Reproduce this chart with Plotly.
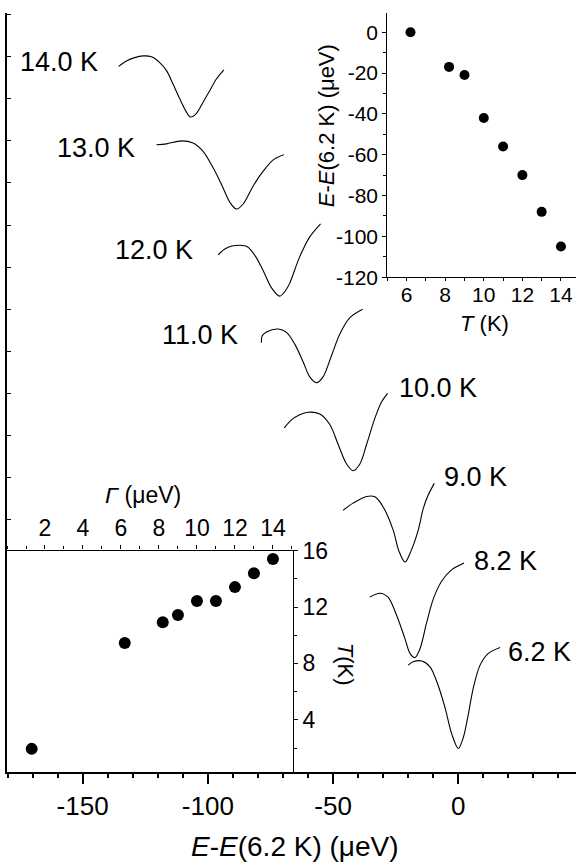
import plotly.graph_objects as go

# ---------------- main panel: spectra (x in μeV, y = offset intensity) ----------------
x_14K = [-135.6, -132.5, -129.2, -125.9, -122.5, -119.2, -116.5, -113.9, -111.2, -108.6, -107.0, -104.6, -101.9, -99.2, -96.6, -93.6]
y_14K = [16.77, 16.90, 16.98, 17.02, 17.00, 16.86, 16.67, 16.35, 16.00, 15.69, 15.57, 15.65, 15.92, 16.20, 16.47, 16.69]

x_13K = [-120.5, -116.5, -110.6, -105.9, -101.9, -97.9, -94.6, -91.2, -88.6, -85.9, -81.9, -77.9, -73.9, -69.7]
y_13K = [14.91, 14.93, 15.00, 14.95, 14.75, 14.36, 13.97, 13.54, 13.38, 13.50, 13.93, 14.28, 14.55, 14.67]

x_12K = [-95.9, -93.2, -90.4, -87.3, -84.1, -80.9, -77.7, -74.5, -71.3, -68.9, -67.3, -63.3, -59.3, -55.0]
y_12K = [12.29, 12.43, 12.50, 12.52, 12.48, 12.25, 11.89, 11.50, 11.31, 11.45, 11.62, 12.25, 12.72, 13.03]

x_11K = [-78.6, -78.3, -76.6, -71.9, -68.6, -65.3, -61.9, -59.3, -56.6, -54.0, -50.6, -47.3, -43.3, -38.2]
y_11K = [10.20, 10.37, 10.46, 10.53, 10.45, 10.17, 9.74, 9.39, 9.25, 9.39, 9.90, 10.41, 10.80, 11.00]

x_10K = [-69.5, -66.6, -63.3, -60.0, -55.3, -51.3, -48.0, -44.6, -42.0, -39.3, -36.6, -33.3, -30.6, -28.2]
y_10K = [8.18, 8.37, 8.49, 8.55, 8.51, 8.26, 7.79, 7.32, 7.16, 7.32, 7.79, 8.41, 8.80, 9.00]

x_9K = [-46.0, -42.0, -36.6, -33.3, -30.0, -26.0, -23.7, -21.3, -18.9, -16.0, -14.0, -12.1, -9.6]
y_9K = [6.22, 6.39, 6.55, 6.54, 6.30, 5.75, 5.25, 4.99, 5.25, 5.75, 6.26, 6.57, 6.86]

x_82K = [-35.3, -31.3, -28.0, -24.6, -21.3, -19.3, -17.3, -15.3, -12.6, -10.0, -6.6, -2.6, 2.3]
y_82K = [4.16, 4.25, 4.15, 3.72, 3.17, 2.82, 2.72, 2.93, 3.56, 4.11, 4.54, 4.81, 4.97]

x_62K = [-20.0, -18.0, -14.6, -11.3, -8.6, -5.3, -2.6, 0.0, 2.0, 4.0, 6.0, 8.7, 12.0, 16.7]
y_62K = [2.54, 2.62, 2.64, 2.50, 2.15, 1.53, 0.90, 0.56, 0.82, 1.37, 2.00, 2.54, 2.82, 2.96]

curve_labels = ["14.0 K", "13.0 K", "12.0 K", "11.0 K", "10.0 K", "9.0 K", "8.2 K", "6.2 K"]
label_x = [-159.4, -144.8, -121.6, -103.2, -8.3, 6.7, 18.7, 32.5]
label_y = [16.87, 14.83, 12.41, 10.39, 9.12, 7.01, 5.02, 2.86]

main_tickvals = [-150, -100, -50, 0]
main_ticktext = ["-150", "-100", "-50", "0"]

# ---------------- inset (top right): shift vs T ----------------
shift_T = [6.2, 8.2, 9.0, 10.0, 11.0, 12.0, 13.0, 14.0]
shift_E = [0, -17, -21, -42, -56, -70, -88, -105]
inset1_xticks = [6, 8, 10, 12, 14]
inset1_yticks = [0, -20, -40, -60, -80, -100, -120]
inset1_yticktext = ["0", "-20", "-40", "-60", "-80", "-100", "-120"]

# ---------------- inset (bottom left): Γ axis (top) vs T axis (right) ----------------
gamma_vals = [1.3, 6.2, 8.2, 9.0, 10.0, 11.0, 12.0, 13.0, 14.0]
gamma_T = [1.94, 9.45, 10.92, 11.43, 12.43, 12.43, 13.41, 14.39, 15.40]
inset2_xticks = [2, 4, 6, 8, 10, 12, 14]
inset2_yticks = [4, 8, 12, 16]

FONT = "Liberation Sans, Arial, sans-serif"

fig = go.Figure()
curves = [(x_14K, y_14K), (x_13K, y_13K), (x_12K, y_12K), (x_11K, y_11K),
          (x_10K, y_10K), (x_9K, y_9K), (x_82K, y_82K), (x_62K, y_62K)]
for xs, ys in curves:
    fig.add_trace(go.Scatter(x=xs, y=ys, mode="lines",
                             line=dict(color="black", width=1.1, shape="spline", smoothing=0.9),
                             xaxis="x", yaxis="y", hoverinfo="skip", showlegend=False))

fig.add_trace(go.Scatter(x=shift_T, y=shift_E, mode="markers",
                         marker=dict(size=10, color="black"),
                         xaxis="x2", yaxis="y2", hoverinfo="skip", showlegend=False))
fig.add_trace(go.Scatter(x=gamma_vals, y=gamma_T, mode="markers",
                         marker=dict(size=12, color="black"),
                         xaxis="x3", yaxis="y3", hoverinfo="skip", showlegend=False))

annotations = []
for t, lx, ly in zip(curve_labels, label_x, label_y):
    annotations.append(dict(x=lx, y=ly, xref="x", yref="y", text=t, showarrow=False,
                            xanchor="center", yanchor="middle",
                            font=dict(family=FONT, size=27, color="black")))

# axis titles as annotations (paper coordinates)
annotations += [
    dict(x=0.506, y=-0.0988, xref="paper", yref="paper", showarrow=False,
         text="<i>E</i>-<i>E</i>(6.2 K) (μeV)", xanchor="center", yanchor="middle",
         font=dict(family=FONT, size=28, color="black")),
    dict(x=0.840, y=0.5905, xref="paper", yref="paper", showarrow=False,
         text="<i>T</i> (K)", xanchor="center", yanchor="middle",
         font=dict(family=FONT, size=22, color="black")),
    dict(x=0.5619, y=0.8518, xref="paper", yref="paper", showarrow=False,
         text="<i>E</i>-<i>E</i>(6.2 K) (μeV)", textangle=-90, xanchor="center", yanchor="middle",
         font=dict(family=FONT, size=22, color="black")),
    dict(x=0.2395, y=0.3645, xref="paper", yref="paper", showarrow=False,
         text="<i>Γ</i> (μeV)", xanchor="center", yanchor="middle",
         font=dict(family=FONT, size=23, color="black")),
    dict(x=0.594, y=0.1414, xref="paper", yref="paper", showarrow=False,
         text="<i>T</i>(K)", textangle=90, xanchor="center", yanchor="middle",
         font=dict(family=FONT, size=22, color="black")),
]

ax_common = dict(showgrid=False, zeroline=False, showline=True, linecolor="black",
                 tickcolor="black", fixedrange=True)

fig.update_layout(
    width=576, height=868,
    margin=dict(l=7, r=0, t=3, b=96),
    paper_bgcolor="white", plot_bgcolor="white",
    showlegend=False,
    font=dict(family=FONT, color="black"),
    annotations=annotations,
    xaxis=dict(**ax_common, domain=[0, 1], anchor="y", range=[-180.2, 47.0],
               linewidth=1.5, ticks="outside", ticklen=10, tickwidth=1.5,
               tickvals=main_tickvals, ticktext=main_ticktext,
               minor=dict(dtick=10, tick0=0, ticks="outside", ticklen=4, tickwidth=1.5, tickcolor="black"),
               tickfont=dict(family=FONT, size=26)),
    xaxis4=dict(**ax_common, overlaying="x", side="top", anchor="y", range=[-180.2, 47.0],
                linewidth=1.5, ticks="inside", ticklen=4, tickwidth=1.2, dtick=10, tick0=0,
                showticklabels=False),
    yaxis=dict(**ax_common, domain=[0, 1], anchor="x", range=[0, 18.04],
               linewidth=1.5, ticks="inside", ticklen=4, tickwidth=1.2, dtick=1, tick0=0,
               showticklabels=False),
    xaxis2=dict(**ax_common, domain=[0.6684, 1], anchor="y2", range=[5.0, 14.78],
                linewidth=1.2, ticks="outside", ticklen=3, tickwidth=1.2,
                tickvals=inset1_xticks, ticklabelstandoff=-5,
                minor=dict(dtick=1, tick0=0, ticks="outside", ticklen=3, tickwidth=1, tickcolor="black"),
                tickfont=dict(family=FONT, size=21)),
    yaxis2=dict(**ax_common, domain=[0.6519, 1], anchor="x2", range=[-120, 9.4],
                linewidth=1.2, ticks="outside", ticklen=4, tickwidth=1.2,
                tickvals=inset1_yticks, ticktext=inset1_yticktext,
                minor=dict(dtick=10, tick0=0, ticks="outside", ticklen=3, tickwidth=1, tickcolor="black"),
                tickfont=dict(family=FONT, size=21)),
    xaxis3=dict(**ax_common, domain=[0, 0.5021], anchor="y3", side="top", range=[0, 15.04],
                linewidth=1.2, ticks="outside", ticklen=4, tickwidth=1.2,
                tickvals=inset2_xticks,
                minor=dict(dtick=1, tick0=0, ticks="outside", ticklen=3, tickwidth=1, tickcolor="black"),
                tickfont=dict(family=FONT, size=23)),
    yaxis3=dict(**ax_common, domain=[0, 0.2917], anchor="x3", side="right", range=[0.3, 16],
                linewidth=1.2, ticks="outside", ticklen=4, tickwidth=1.2,
                tickvals=inset2_yticks,
                minor=dict(dtick=2, tick0=0, ticks="outside", ticklen=3, tickwidth=1, tickcolor="black"),
                tickfont=dict(family=FONT, size=23)),
)

fig.write_html("out.html")
